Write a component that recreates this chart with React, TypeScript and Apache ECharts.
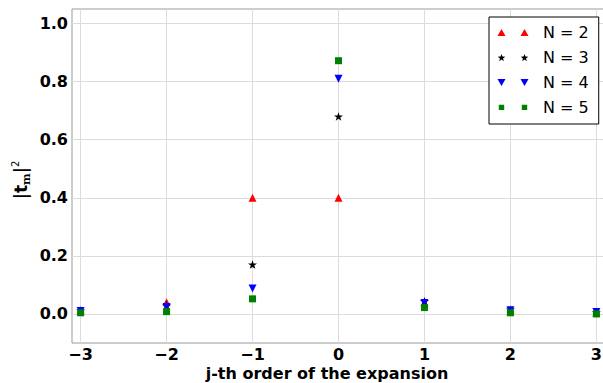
import React, { useEffect, useRef } from "react";
import * as echarts from "echarts";

const orders = [-3, -2, -1, 0, 1, 2, 3];
const seriesNames = ["N = 2", "N = 3", "N = 4", "N = 5"];
const valuesN2 = [0.012, 0.04, 0.4, 0.4, 0.04, 0.01, 0.005];
const valuesN3 = [0.012, 0.03, 0.17, 0.68, 0.044, 0.015, 0.007];
const valuesN4 = [0.01, 0.024, 0.088, 0.81, 0.038, 0.013, 0.007];
const valuesN5 = [0.004, 0.008, 0.052, 0.872, 0.022, 0.004, 0.0];
const xTicks = [-3, -2, -1, 0, 1, 2, 3];
const yTicks = [0, 0.2, 0.4, 0.6, 0.8, 1.0];

function starPts(cx: number, cy: number, R: number, r: number) {
  let d = "";
  for (let i = 0; i < 10; i++) {
    const a = -Math.PI / 2 + (i * Math.PI) / 5;
    const rad = i % 2 ? r : R;
    const x = cx + rad * Math.cos(a);
    const y = cy + rad * Math.sin(a);
    d += (i ? "L" : "M") + x.toFixed(2) + "," + y.toFixed(2);
  }
  return d + "Z";
}

const FONT = "DejaVu Sans";

export default function App() {
  const ref = useRef<HTMLDivElement>(null);
  useEffect(() => {
    if (!ref.current) return;
    const chart = echarts.init(ref.current, null, { renderer: "svg" });
    const mk = (vals: number[]) => orders.map((x, i) => [x, vals[i]]);
    const starSym = "path://" + starPts(10, 10, 10, 3.9);
    const downSym = "path://M0,0L10,0L5,9Z";
    // invisible anchors fix every legend icon's bounding box to 32 x 10
    const anchors = " M0,0L0.001,0L0,0.001Z M32,10L31.999,10L32,9.999Z";
    const legendIcons = [
      "path://M0.5,8.5L4.5,1.5L8.5,8.5Z M23.5,8.5L27.5,1.5L31.5,8.5Z" + anchors,
      "path://" + starPts(4.5, 5.4, 4, 1.6) + " " + starPts(27.5, 5.4, 4, 1.6) + anchors,
      "path://M0.5,1.5L8.5,1.5L4.5,8.5Z M23.5,1.5L31.5,1.5L27.5,8.5Z" + anchors,
      "path://M1.8,2.2L7.2,2.2L7.2,7.6L1.8,7.6Z M24.8,2.2L30.2,2.2L30.2,7.6L24.8,7.6Z" + anchors,
    ];
    const option: any = {
      animation: false,
      backgroundColor: "#ffffff",
      textStyle: { fontFamily: FONT },
      grid: {
        left: 72,
        top: 9,
        right: -2,
        bottom: 40,
        show: true,
        borderColor: "#9a9a9a",
        borderWidth: 1,
        containLabel: false,
        outerBoundsMode: "none",
      },
      xAxis: {
        type: "value",
        min: -3.1,
        max: 3.1,
        axisLine: { show: false },
        axisTick: { show: false, customValues: xTicks },
        axisLabel: {
          customValues: xTicks,
          margin: 3,
          fontSize: 16,
          lineHeight: 16,
          fontWeight: "bold",
          color: "#000",
          fontFamily: FONT,
          formatter: (v: number) => (v < 0 ? "\u2212" + Math.abs(v) : String(v)),
        },
        splitLine: { show: true, lineStyle: { color: "#dcdcdc", width: 1 } },
      },
      yAxis: {
        type: "value",
        min: -0.1,
        max: 1.05,
        axisLine: { show: false },
        axisTick: { show: false, customValues: yTicks },
        axisLabel: {
          customValues: yTicks,
          margin: 4,
          fontSize: 16,
          fontWeight: "bold",
          color: "#000",
          fontFamily: FONT,
          formatter: (v: number) => v.toFixed(1),
        },
        splitLine: { show: true, lineStyle: { color: "#dcdcdc", width: 1 } },
      },
      legend: {
        orient: "vertical",
        left: 489,
        top: 17,
        padding: [7, 10, 8, 8],
        itemGap: 8,
        itemWidth: 32,
        itemHeight: 10,
        itemStyle: { borderWidth: 0 },
        backgroundColor: "#ffffff",
        borderColor: "#000000",
        borderWidth: 1,
        borderRadius: 0,
        textStyle: { fontSize: 16, color: "#000", fontFamily: FONT, padding: [0, 0, 0, 9], lineHeight: 17 },
        data: seriesNames.map((n, i) => ({ name: n, icon: legendIcons[i] })),
      },
      series: [
        {
          name: seriesNames[0],
          type: "scatter",
          data: mk(valuesN2),
          symbol: "triangle",
          symbolSize: [8, 8],
          itemStyle: { color: "#ff0000", opacity: 1 },
        },
        {
          name: seriesNames[1],
          type: "scatter",
          data: mk(valuesN3),
          symbol: starSym,
          symbolKeepAspect: true,
          symbolSize: 9,
          itemStyle: { color: "#000000", opacity: 1 },
        },
        {
          name: seriesNames[2],
          type: "scatter",
          data: mk(valuesN4),
          symbol: downSym,
          symbolSize: [8, 8],
          itemStyle: { color: "#0000ff", opacity: 1 },
        },
        {
          name: seriesNames[3],
          type: "scatter",
          data: mk(valuesN5),
          symbol: "rect",
          symbolSize: 7,
          itemStyle: { color: "#008000", opacity: 1 },
        },
      ],
      graphic: [
        {
          type: "text",
          x: 327,
          y: 373,
          style: {
            text: "j-th order of the expansion",
            fontSize: 16,
            lineHeight: 16,
            fontWeight: "bold",
            fontFamily: FONT,
            fill: "#000",
            align: "center",
            verticalAlign: "middle",
          },
        },
        {
          type: "text",
          x: 21,
          y: 180,
          rotation: Math.PI / 2,
          style: {
            text: "{a||t}{s|m}{a||}{p|2}",
            align: "center",
            verticalAlign: "middle",
            fill: "#000",
            rich: {
              a: { fontSize: 17, fontWeight: "bold", fontFamily: FONT, lineHeight: 22, fill: "#000" },
              s: { fontSize: 11, fontWeight: "bold", fontFamily: "DejaVu Serif", lineHeight: 11, verticalAlign: "bottom", fill: "#000" },
              p: { fontSize: 10, fontFamily: FONT, lineHeight: 10, verticalAlign: "top", fill: "#000" },
            },
          },
        },
      ],
    };
    chart.setOption(option);
    return () => chart.dispose();
  }, []);
  return (
    <div
      ref={ref}
      style={{ position: "fixed", left: 0, top: 0, width: 603, height: 383 }}
    />
  );
}
